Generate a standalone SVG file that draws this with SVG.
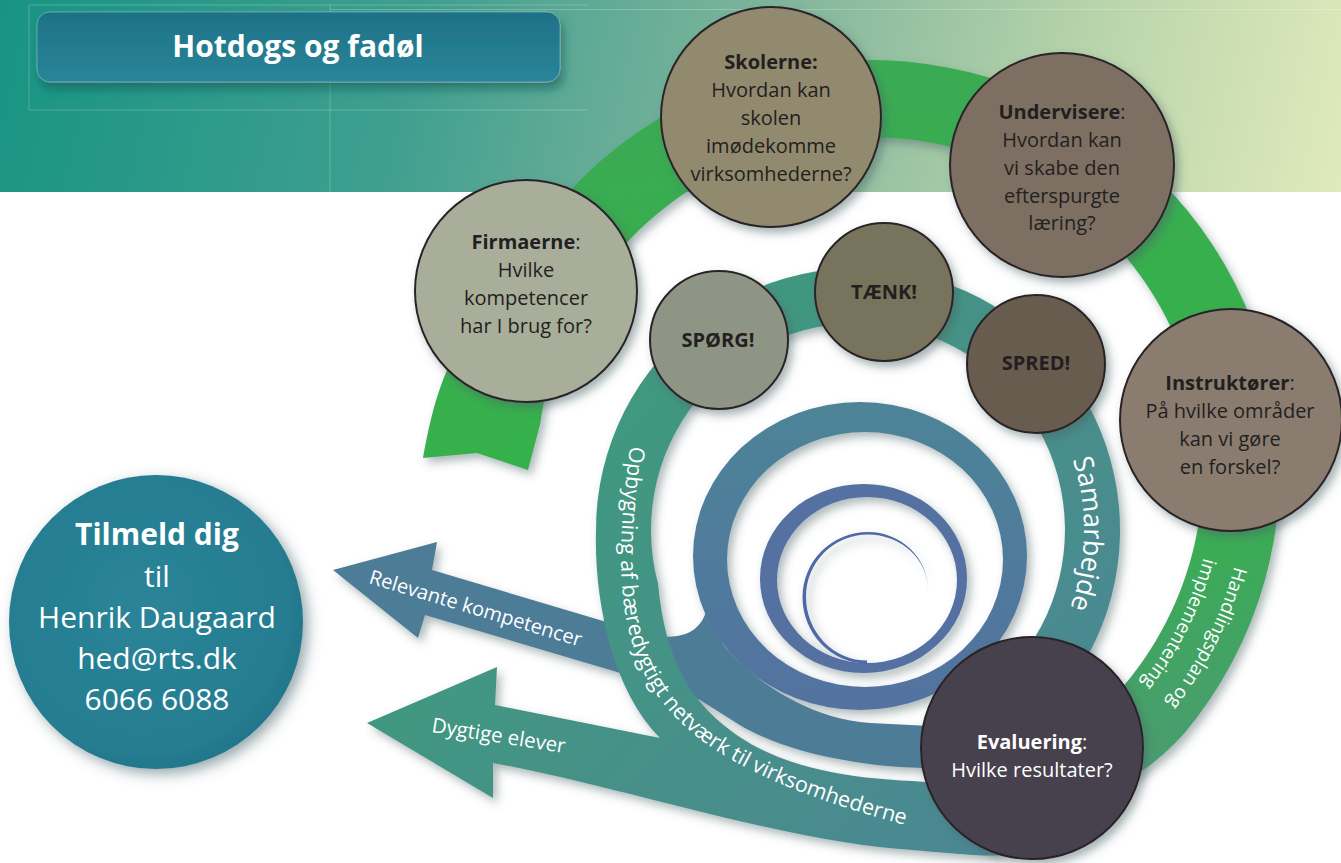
<svg xmlns="http://www.w3.org/2000/svg" width="1341" height="863" viewBox="0 0 1341 863">
<defs>
<style>
text{font-family:"Open Sans","Noto Sans","DejaVu Sans",sans-serif}
.c{stroke:#2a2426;stroke-width:2;filter:url(#shc)}
.t{font-size:20px;fill:#231f20;text-anchor:middle}
.b{font-weight:bold}
.wt{fill:#ffffff}
.bl{fill:#ffffff}
.guide{fill:none;stroke:#ffffff;stroke-opacity:0.22;stroke-width:1}
</style>
<linearGradient id="hdr" x1="0" y1="0" x2="1341" y2="300" gradientUnits="userSpaceOnUse">
<stop offset="0" stop-color="#189484"/>
<stop offset="0.3" stop-color="#3f9f8f"/>
<stop offset="0.55" stop-color="#7fb59c"/>
<stop offset="0.8" stop-color="#bcd6ac"/>
<stop offset="1" stop-color="#e3ecbd"/>
</linearGradient>
<linearGradient id="ttl" x1="0" y1="0" x2="0" y2="1">
<stop offset="0" stop-color="#1e7186"/>
<stop offset="1" stop-color="#2a8599"/>
</linearGradient>
<linearGradient id="grn" x1="900" y1="100" x2="1000" y2="800" gradientUnits="userSpaceOnUse">
<stop offset="0" stop-color="#3aab52"/>
<stop offset="0.55" stop-color="#35b24a"/>
<stop offset="1" stop-color="#4a9b72"/>
</linearGradient>
<linearGradient id="tea" x1="600" y1="350" x2="1050" y2="800" gradientUnits="userSpaceOnUse">
<stop offset="0" stop-color="#3f9a7d"/>
<stop offset="1" stop-color="#4c8794"/>
</linearGradient>
<linearGradient id="ring" x1="0" y1="400" x2="0" y2="712" gradientUnits="userSpaceOnUse">
<stop offset="0" stop-color="#4d8497"/>
<stop offset="1" stop-color="#5272a0"/>
</linearGradient>
<radialGradient id="til" cx="0.45" cy="0.45" r="0.6">
<stop offset="0" stop-color="#2a8498"/>
<stop offset="0.8" stop-color="#267d91"/>
<stop offset="1" stop-color="#22748a"/>
</radialGradient>
<filter id="sh" x="-10%" y="-10%" width="125%" height="125%">
<feDropShadow dx="4" dy="5" stdDeviation="5" flood-color="#4a6466" flood-opacity="0.45"/>
</filter>
<filter id="shc" x="-20%" y="-20%" width="150%" height="150%">
<feDropShadow dx="4" dy="5" stdDeviation="5" flood-color="#4a6466" flood-opacity="0.5"/>
</filter>
<filter id="shb" x="-20%" y="-30%" width="140%" height="180%">
<feDropShadow dx="3" dy="7" stdDeviation="5" flood-color="#0b5a5a" flood-opacity="0.6"/>
</filter>
<filter id="sht" x="-20%" y="-20%" width="150%" height="150%">
<feDropShadow dx="5" dy="5" stdDeviation="7" flood-color="#3e5f66" flood-opacity="0.55"/>
</filter>
<path id="pSam" d="M1025.9,378.8 A226,226 0 0 1 1020.6,687"/>
<path id="pOpb" d="M630,446 C621,520 612,600 640,665 C672,735 740,782 920,829"/>
<path id="pH1" d="M1241.3,404.5 A377,377 0 0 1 1041.2,805.9"/>
<path id="pH2" d="M1209.7,410 A345,345 0 0 1 1026.6,777.4"/>
</defs>

<g id="background">
<rect x="0" y="0" width="1341" height="192" fill="url(#hdr)"/>
<path class="guide" d="M588,5 H29 V110 H588 M330,5 V192 M330,9.5 H1341"/>
</g>

<g id="title">
<rect x="37" y="12" width="523" height="70" rx="13" fill="url(#ttl)" stroke="#ffffff" stroke-opacity="0.3" filter="url(#shb)"/>
<text x="298" y="57" font-size="30" font-weight="bold" fill="#ffffff" text-anchor="middle">Hotdogs og fadøl</text>
</g>

<g id="connectors">
<g filter="url(#sh)">
<path id="band-green" fill="url(#grn)" d="M423,458 C430,420 440,370 470,330 L498.4,296.7 A410,410 0 1 1 1184.1,733.5 C1165,755 1140,775 1110,790 L1060,790 L1036.5,758.4 A333,333 0 1 0 540.2,423.7 L528,470 L477,453 Z"/>
<path id="arrow-relevante" fill="#4e7c97" d="M432,570 L640,632 C675,642 698,636 706,612 L735,630 L722,643 C742,670 800,718 870,723 L970,728 L970,770 L900,767 C830,762 770,745 735,722 L700,700 C680,690 650,684 617,672 L425,615 L418,638 L333,570 L437,542 Z"/>
<path id="spiral-ring" fill="url(#ring)" fill-rule="evenodd" d="M693,556 a167,154 0 1 0 334,0 a167,154 0 1 0 -334,0 Z M727,559.5 a138,127.5 0 1 0 276,0 a138,127.5 0 1 0 -276,0 Z"/>
<path id="spiral-inner" fill="#5471a2" fill-rule="evenodd" d="M760,578.5 a103.5,94.5 0 1 0 207,0 a103.5,94.5 0 1 0 -207,0 Z M777,580 a90,83 0 1 0 180,0 a90,83 0 1 0 -180,0 Z"/>
<path id="spiral-hair" fill="#4f67a8" d="M928,590 A60,58 0 0 0 868,532 A65.5,65 0 0 0 802.5,597 A64.5,66.5 0 0 0 867,663.5 L867,660.5 A61,63.5 0 0 1 806,597 A62,62 0 0 1 868,534.5 A60,55.5 0 0 1 928,590 Z"/>
<path id="band-teal" fill="url(#tea)" d="M1072.6,680.3 A262,262 0 1 0 596,530 C594,600 612,690 660,738 L495,705 L497,667 L367,723 L493,798 L493,763 C620,786 780,840 900,849 C950,853 985,857 1002,855 L960,785 L913,781 C840,778 775,765 730,730 C690,700 665,660 658,583.6 A207,207 0 1 1 1027.6,648.7 Z"/>
</g>
<g id="connector-labels" class="bl">
<text font-size="27"><textPath href="#pSam" startOffset="50%" text-anchor="middle">Samarbejde</textPath></text>
<text font-size="21.5"><textPath href="#pOpb" startOffset="0">Opbygning af bæredygtigt netværk til virksomhederne</textPath></text>
<text font-size="19"><textPath href="#pH1" startOffset="50%" text-anchor="middle">Handlingsplan og</textPath></text>
<text font-size="19"><textPath href="#pH2" startOffset="50%" text-anchor="middle">implementering</textPath></text>
<text font-size="20" transform="translate(368,583) rotate(16.7)">Relevante kompetencer</text>
<text font-size="20.5" transform="translate(431,732) rotate(9)">Dygtige elever</text>
</g>
</g>

<g id="node-skolerne">
<circle class="c" cx="771" cy="117" r="110" fill="#918a6e"/>
<text class="t"><tspan x="771" y="69" class="b">Skolerne:</tspan><tspan x="771" y="97">Hvordan kan</tspan><tspan x="771" y="125">skolen</tspan><tspan x="771" y="153">imødekomme</tspan><tspan x="771" y="181">virksomhederne?</tspan></text>
</g>

<g id="node-undervisere">
<circle class="c" cx="1062" cy="165" r="112" fill="#7d7062"/>
<text class="t"><tspan x="1062" y="119"><tspan class="b">Undervisere</tspan>:</tspan><tspan x="1062" y="147">Hvordan kan</tspan><tspan x="1062" y="175">vi skabe den</tspan><tspan x="1062" y="203">efterspurgte</tspan><tspan x="1062" y="230">læring?</tspan></text>
</g>

<g id="node-firmaerne">
<circle class="c" cx="526" cy="291" r="111" fill="#a9ae9b"/>
<text class="t"><tspan x="526" y="249"><tspan class="b">Firmaerne</tspan>:</tspan><tspan x="526" y="277">Hvilke</tspan><tspan x="526" y="305">kompetencer</tspan><tspan x="526" y="333">har I brug for?</tspan></text>
</g>

<g id="node-instruktorer">
<circle class="c" cx="1231" cy="420" r="111" fill="#8a7d6f"/>
<text class="t"><tspan x="1230" y="390"><tspan class="b">Instruktører</tspan>:</tspan><tspan x="1230" y="418">På hvilke områder</tspan><tspan x="1230" y="446">kan vi gøre</tspan><tspan x="1230" y="474">en forskel?</tspan></text>
</g>

<g id="node-sporg">
<circle class="c" cx="719" cy="340" r="69" fill="#8f9584"/>
<text class="t b" x="718" y="347">SPØRG!</text>
</g>

<g id="node-taenk">
<circle class="c" cx="884" cy="292" r="69" fill="#77735b"/>
<text class="t b" x="884" y="299">TÆNK!</text>
</g>

<g id="node-spred">
<circle class="c" cx="1036" cy="364" r="69" fill="#675c4f"/>
<text class="t b" x="1036" y="370">SPRED!</text>
</g>

<g id="node-evaluering">
<circle class="c" cx="1032" cy="748" r="111" fill="#47414e"/>
<text class="t wt"><tspan x="1032" y="749"><tspan class="b">Evaluering</tspan>:</tspan><tspan x="1032" y="777">Hvilke resultater?</tspan></text>
</g>

<g id="node-tilmeld">
<circle cx="156" cy="622" r="147" fill="url(#til)" filter="url(#sht)"/>
<text font-size="30" fill="#ffffff" text-anchor="middle"><tspan x="157" y="545" font-weight="bold">Tilmeld dig</tspan><tspan x="157" y="587">til</tspan><tspan x="157" y="628">Henrik Daugaard</tspan><tspan x="157" y="669">hed@rts.dk</tspan><tspan x="157" y="710">6066 6088</tspan></text>
</g>
</svg>
